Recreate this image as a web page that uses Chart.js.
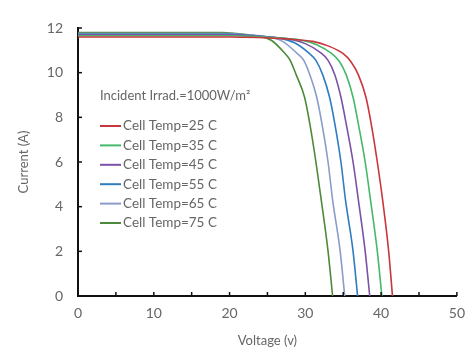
<!DOCTYPE html>
<html>
<head>
<meta charset="utf-8">
<script src="https://cdn.jsdelivr.net/npm/chart.js@4/dist/chart.umd.min.js"></script>
<style>
  html, body { margin: 0; padding: 0; background: #fff; }
  #wrap { width: 474px; height: 352px; }
</style>
</head>
<body>
<div id="wrap"><canvas id="graph0" width="474" height="352"></canvas></div>
<script>
// I-V curves, one per cell temperature
const tempLabels = ["Cell Temp=25 C", "Cell Temp=35 C", "Cell Temp=45 C", "Cell Temp=55 C", "Cell Temp=65 C", "Cell Temp=75 C"];
const lineColors = ["#c9363c", "#45b86b", "#7b52a6", "#2f7cc0", "#8b9cc9", "#4c8a3a"];

const volt25 = [0, 20, 28, 31, 33, 35, 36, 37, 38, 38.7, 39.5, 40.2, 41, 41.5];
const amp25  = [11.6, 11.6, 11.5, 11.4, 11.2, 10.85, 10.5, 9.9, 8.9, 7.7, 6.0, 4.3, 2.0, 0];

const volt35 = [0, 20, 26.5, 29.5, 31.5, 33.5, 34.5, 35.4, 36.3, 37.0, 37.9, 38.6, 39.5, 40.1];
const amp35  = [11.65, 11.65, 11.55, 11.45, 11.25, 10.85, 10.5, 9.9, 8.9, 7.7, 6.0, 4.3, 2.0, 0];

const volt45 = [0, 20, 25, 28, 30, 32, 33, 33.9, 34.7, 35.4, 36.3, 37.0, 37.9, 38.5];
const amp45  = [11.7, 11.7, 11.6, 11.5, 11.3, 10.9, 10.55, 9.9, 8.9, 7.7, 6.0, 4.3, 2.0, 0];

const volt55 = [0, 20, 23.5, 26.5, 28.5, 30.4, 31.4, 32.3, 33.2, 33.9, 34.7, 35.3, 36.3, 36.9];
const amp55  = [11.72, 11.72, 11.65, 11.55, 11.35, 10.9, 10.55, 9.9, 8.9, 7.7, 6.0, 4.3, 2.0, 0];

const volt65 = [0, 20, 22, 25, 27, 28.8, 29.8, 30.6, 31.5, 32.2, 33.0, 33.6, 34.6, 35.2];
const amp65  = [11.75, 11.75, 11.7, 11.6, 11.4, 10.9, 10.55, 9.9, 8.9, 7.7, 6.0, 4.3, 2.0, 0];

const volt75 = [0, 19, 21, 23.5, 25.5, 27.2, 28.0, 28.8, 29.9, 30.6, 31.4, 32.1, 33.0, 33.6];
const amp75  = [11.8, 11.8, 11.75, 11.65, 11.45, 10.9, 10.55, 9.9, 8.9, 7.7, 6.0, 4.3, 2.0, 0];

const voltSets = [volt25, volt35, volt45, volt55, volt65, volt75];
const ampSets = [amp25, amp35, amp45, amp55, amp65, amp75];

const xTicks = [0, 5, 10, 15, 20, 25, 30, 35, 40, 45, 50];
const yTicks = [0, 2, 4, 6, 8, 10, 12];

const legendTitle = "Incident Irrad.=1000W/m\u00b2";
const FONT = "Lato, 'Open Sans', sans-serif";
const TEXT_GRAY = "#666";

function toPoints(xs, ys){
    return xs.map((x, i) => ({x: x, y: ys[i]}));
}

// ticks pointing into the plot, and the legend block inside it
const insideStuff = {
    id: "insideStuff",
    afterDraw(chart){
        const ctx = chart.ctx;
        const xs = chart.scales.x;
        const ys = chart.scales.y;
        const area = chart.chartArea;
        ctx.save();
        ctx.strokeStyle = "#111";
        ctx.lineWidth = 1.5;
        xTicks.forEach(v => {
            const px = xs.getPixelForValue(v);
            ctx.beginPath();
            ctx.moveTo(px, area.bottom);
            ctx.lineTo(px, area.bottom - 4);
            ctx.stroke();
        });
        yTicks.forEach(v => {
            const py = ys.getPixelForValue(v);
            ctx.beginPath();
            ctx.moveTo(area.left, py);
            ctx.lineTo(area.left + 4, py);
            ctx.stroke();
        });

        ctx.fillStyle = TEXT_GRAY;
        ctx.textBaseline = "middle";
        ctx.font = "13px " + FONT;
        ctx.fillText(legendTitle, 100, 96);
        ctx.font = "13.5px " + FONT;
        chart.data.datasets.forEach((ds, i) => {
            const y = 126 + i * 19.4;
            ctx.strokeStyle = ds.borderColor;
            ctx.lineWidth = 2;
            ctx.beginPath();
            ctx.moveTo(100, y);
            ctx.lineTo(121, y);
            ctx.stroke();
            ctx.fillStyle = TEXT_GRAY;
            ctx.fillText(ds.label, 123, y);
        });
        ctx.restore();
    }
};

function main(){
    const datasets = tempLabels.map((name, i) => ({
        label: name,
        data: toPoints(voltSets[i], ampSets[i]),
        borderColor: lineColors[i],
        backgroundColor: lineColors[i],
        borderWidth: 1.6,
        pointRadius: 0,
        showLine: true,
        cubicInterpolationMode: "monotone",
        fill: false
    }));

    new Chart("graph0", {
        type: "scatter",
        data: {datasets: datasets},
        options: {
            responsive: false,
            animation: false,
            layout: {padding: {left: 0, top: 28, right: 8, bottom: 0}},
            plugins: {
                legend: {display: false},
                tooltip: {enabled: false}
            },
            scales: {
                x: {
                    type: "linear",
                    min: 0, max: 50,
                    afterBuildTicks: s => { s.ticks = xTicks.map(v => ({value: v})); },
                    afterFit: s => { s.height = 56; },
                    grid: {display: false, drawTicks: false},
                    border: {display: true, color: "#111", width: 2},
                    ticks: {
                        padding: 9,
                        color: TEXT_GRAY,
                        font: {family: FONT, size: 14},
                        callback: v => (v % 10 === 0 ? v : "")
                    },
                    title: {
                        display: true,
                        text: "Voltage (v)",
                        color: TEXT_GRAY,
                        font: {family: FONT, size: 13},
                        padding: {top: 2, bottom: 3}
                    }
                },
                y: {
                    type: "linear",
                    min: 0, max: 12,
                    afterBuildTicks: s => { s.ticks = yTicks.map(v => ({value: v})); },
                    afterFit: s => { s.width = 78; },
                    grid: {display: false, drawTicks: false},
                    border: {display: true, color: "#111", width: 2},
                    ticks: {
                        padding: 15,
                        color: TEXT_GRAY,
                        font: {family: FONT, size: 14}
                    },
                    title: {
                        display: true,
                        text: "Current (A)",
                        color: TEXT_GRAY,
                        font: {family: FONT, size: 13},
                        padding: {top: 16, bottom: 0}
                    }
                }
            }
        },
        plugins: [insideStuff]
    });
}

main();
</script>
</body>
</html>
